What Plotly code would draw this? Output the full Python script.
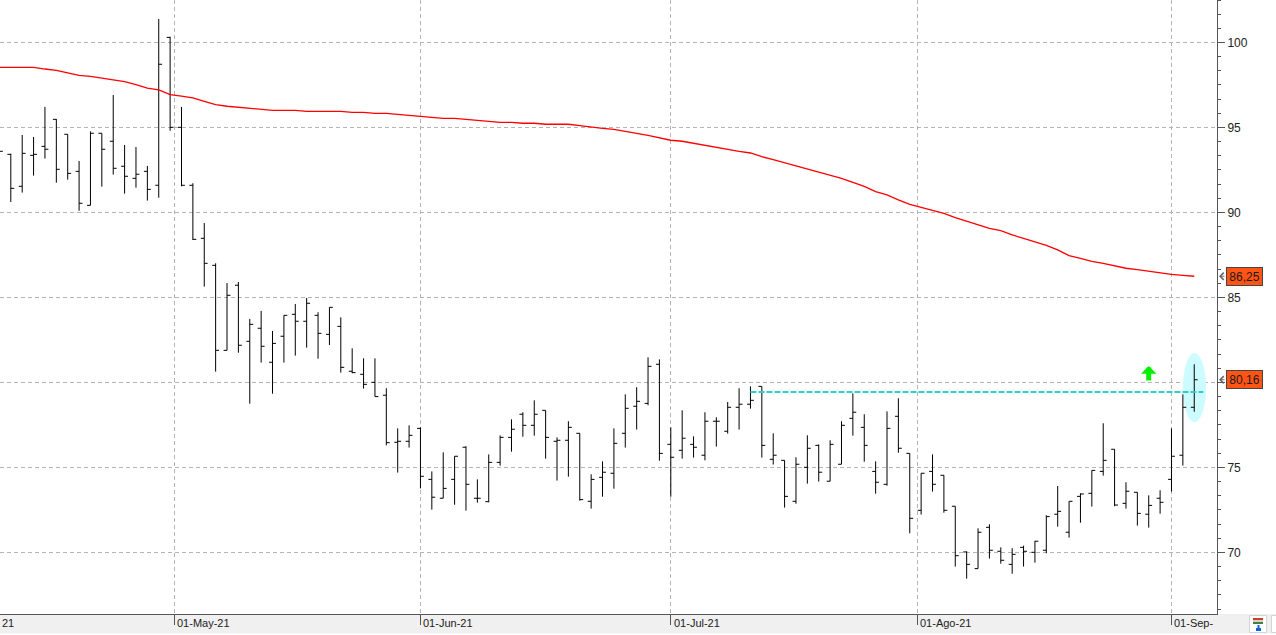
import plotly.graph_objects as go

# Daily bars, one entry per trading session; session -1 sits just off the left edge.
SESSIONS = list(range(-1, 105))

OPEN = [93.8, 93.42, 91.54, 93.36, 93.89, 95.48, 94.6, 92.42, 90.42, 94.66, 94.19, 92.72, 92.01, 92.42, 91.6,
        100.3, 95.01, 91.6, 88.48, 86.89, 81.89, 85.72, 82.42, 83.19, 81.19, 82.72, 84.01, 83.6, 83.95, 82.83,
        83.3, 80.66, 80.48, 80.01, 79.25, 76.48, 76.54, 77.3, 74.3, 73.19, 74.3, 76.19, 73.19, 72.99, 75.3,
        76.77, 78.13, 77.48, 78.36, 76.54, 76.6, 77.01, 73.01, 74.42, 74.66, 77.01, 78.6, 78.77, 81.07, 76.36,
        76.01, 76.36, 75.72, 77.72, 77.13, 78.54, 78.72, 79.77, 75.48, 75.42, 73.01, 75.01, 76.3, 74.19, 75.19,
        77.89, 77.36, 74.77, 74.01, 78.01, 75.83, 72.48, 74.77, 74.54, 72.72, 70.03, 69.05, 71.48, 70.07, 69.3,
        70.3, 70.01, 70.13, 72.25, 71.19, 73.3, 73.48, 74.77, 76.07, 72.89, 73.54, 72.25, 73.19, 74.3, 75.72,
        78.54]
HIGH = [94.0, 93.46, 94.56, 94.44, 96.21, 95.5, 94.6, 93.03, 94.77, 94.66, 96.91, 93.97, 93.85, 92.74, 101.38,
        100.34, 96.21, 91.72, 89.38, 87.01, 85.85, 85.91, 83.74, 84.21, 83.03, 83.95, 84.62, 84.97, 84.13, 84.42,
        83.83, 82.01, 81.42, 81.42, 79.66, 77.3, 77.48, 77.36, 74.77, 75.89, 75.66, 76.25, 74.3, 75.77, 76.89,
        77.83, 78.25, 78.95, 78.36, 76.77, 77.72, 77.01, 74.6, 75.36, 77.3, 79.3, 79.72, 81.48, 81.36, 77.36,
        78.36, 76.83, 78.25, 77.95, 78.85, 79.66, 79.77, 79.77, 77.01, 75.42, 75.6, 76.89, 76.36, 76.6, 77.72,
        79.36, 78.13, 75.36, 78.3, 79.07, 75.83, 74.66, 75.77, 74.54, 72.72, 70.07, 71.42, 71.66, 70.3, 70.25,
        70.4, 70.68, 72.19, 73.91, 73.01, 73.48, 74.83, 77.6, 76.07, 74.13, 73.54, 73.36, 73.66, 77.3, 79.3,
        81.07]
LOW = [92.5, 90.62, 91.17, 92.17, 93.17, 91.75, 91.93, 90.1, 90.42, 91.52, 92.23, 91.11, 91.46, 90.7, 90.87,
       94.81, 91.54, 88.38, 85.64, 80.64, 81.89, 81.75, 78.75, 81.17, 79.34, 81.17, 81.58, 82.05, 81.4, 82.2,
       80.58, 80.54, 79.64, 79.17, 76.3, 74.7, 76.17, 73.77, 72.52, 73.19, 72.81, 72.46, 72.93, 72.95, 75.11,
       75.93, 76.81, 76.87, 75.52, 74.23, 74.46, 73.05, 72.58, 73.28, 73.75, 76.17, 77.23, 78.66, 75.4, 73.28,
       75.52, 75.58, 75.42, 76.23, 76.99, 77.23, 78.46, 75.58, 75.17, 72.64, 72.87, 74.05, 74.17, 74.19, 75.19,
       76.87, 75.34, 73.46, 73.93, 75.87, 71.13, 72.23, 73.58, 72.34, 69.17, 68.46, 69.05, 69.64, 69.34, 68.75,
       69.17, 69.4, 69.95, 71.52, 70.87, 71.75, 72.7, 74.52, 72.72, 72.58, 71.58, 71.46, 72.28, 73.58, 75.11,
       78.28]
CLOSE = [93.6, 91.42, 93.48, 93.42, 93.72, 92.54, 92.3, 90.54, 94.66, 93.72, 92.6, 92.13, 92.25, 91.36, 98.72,
         95.01, 91.6, 88.42, 87.01, 81.89, 85.13, 82.19, 83.42, 82.13, 82.3, 83.95, 83.6, 84.66, 82.89, 84.42,
         80.89, 80.58, 79.89, 79.17, 76.46, 76.54, 76.89, 74.48, 73.25, 73.77, 75.66, 74.01, 73.19, 75.3, 76.77,
         77.25, 77.48, 78.13, 76.77, 76.6, 77.36, 73.11, 74.3, 74.72, 76.42, 78.48, 78.89, 80.95, 75.83, 75.6,
         76.72, 76.19, 77.72, 77.72, 78.54, 78.72, 78.95, 76.3, 75.72, 73.3, 75.19, 76.13, 74.72, 76.36, 77.48,
         78.25, 76.3, 74.13, 77.3, 76.13, 72.01, 74.66, 74.01, 72.48, 69.81, 69.3, 71.19, 70.13, 69.54, 69.89,
         70.07, 70.66, 72.11, 72.42, 73.01, 73.44, 74.83, 75.42, 72.79, 73.6, 72.3, 72.77, 72.95, 75.66, 78.54,
         80.16]

# Long moving average, same sessions as the bars.
AVERAGE = [98.54, 98.54, 98.54, 98.54, 98.44, 98.36, 98.21, 98.07, 98.01, 97.91, 97.77, 97.7, 97.52, 97.32, 97.21,
           96.93, 96.85, 96.74, 96.54, 96.34, 96.25, 96.19, 96.13, 96.07, 96.01, 96.01, 96.01, 95.95, 95.95, 95.95,
           95.95, 95.89, 95.89, 95.83, 95.83, 95.77, 95.72, 95.66, 95.6, 95.54, 95.54, 95.48, 95.42, 95.36, 95.3,
           95.3, 95.25, 95.25, 95.19, 95.19, 95.19, 95.11, 95.01, 94.95, 94.89, 94.79, 94.66, 94.54, 94.4, 94.25,
           94.19, 94.07, 93.93, 93.81, 93.7, 93.6, 93.5, 93.28, 93.11, 92.93, 92.77, 92.58, 92.4, 92.23, 92.01,
           91.77, 91.54, 91.23, 91.03, 90.74, 90.48, 90.3, 90.13, 89.95, 89.7, 89.5, 89.3, 89.07, 88.93, 88.68,
           88.48, 88.29, 88.07, 87.8, 87.46, 87.3, 87.13, 87.01, 86.87, 86.72, 86.64, 86.54, 86.42, 86.36, 86.3,
           86.25]

# Breakout level, drawn from the session that set it to just past the last bar.
LEVEL_SESSIONS = [65, 104.8]
LEVEL_PRICE = [79.44, 79.44]

# The 80 tick carries no number: the last-close flag sits on it.
PRICE_TICKS = [70, 75, 80, 85, 90, 95, 100]
PRICE_LABELS = ["70", "75", "", "85", "90", "95", "100"]
DATE_TICKS = [14.38, 36, 58, 79.67, 102]
DATE_LABELS = ["01-May-21", "01-Jun-21", "01-Jul-21", "01-Ago-21", "01-Sep-"]

LAST_AVERAGE_LABEL = "86,25"
LAST_CLOSE_LABEL = "80,16"

# Session and price of the buy signal arrow, and the highlighted last bar.
SIGNAL_SESSION = 100
SIGNAL_PRICE = 80.97
HIGHLIGHT_SESSIONS = [103.0, 105.04]
HIGHLIGHT_PRICES = [77.66, 81.73]

WIDTH, HEIGHT = 1276, 635
PLOT_W, PLOT_H = 1217, 614
FONT = "Liberation Sans"
AXIS_COLOR = "#555555"
GRID_COLOR = "#b4b4b4"


def px(x):
    return x / PLOT_W


def py(y):
    return (PLOT_H - y) / PLOT_H


def paper_rect(x0, y0, x1, y1, fill, line=None):
    return dict(type="rect", xref="paper", yref="paper", x0=px(x0), x1=px(x1), y0=py(y1), y1=py(y0),
                fillcolor=fill, line=dict(color=line or fill, width=1 if line else 0), layer="below")


fig = go.Figure()
fig.add_trace(go.Scatter(x=SESSIONS, y=AVERAGE, mode="lines", line=dict(color="#ff0000", width=1.3),
                         hoverinfo="skip", showlegend=False))
fig.add_trace(go.Scatter(x=LEVEL_SESSIONS, y=LEVEL_PRICE, mode="lines",
                         line=dict(color="#33cccc", width=2, dash="6px,2px"),
                         hoverinfo="skip", showlegend=False))
fig.add_trace(go.Ohlc(x=SESSIONS, open=OPEN, high=HIGH, low=LOW, close=CLOSE, tickwidth=0.3,
                      increasing=dict(line=dict(color="#000000", width=1)),
                      decreasing=dict(line=dict(color="#000000", width=1)),
                      showlegend=False))

shapes = [
    # highlighted last bar
    dict(type="circle", xref="x", yref="y", x0=HIGHLIGHT_SESSIONS[0], x1=HIGHLIGHT_SESSIONS[1],
         y0=HIGHLIGHT_PRICES[0], y1=HIGHLIGHT_PRICES[1], fillcolor="#ccfcff", line=dict(width=0), layer="between"),
    # date strip and toolbar buttons under the plot
    paper_rect(0, 614, WIDTH, 633.5, "#f0f0f0"),
    paper_rect(1249.5, 615.5, 1266.5, 632.5, "#ffffff", "#d4d4d4"),
    paper_rect(1271.5, 615.5, 1280, 632.5, "#ffffff", "#d4d4d4"),
    paper_rect(1253, 618, 1263, 620, "#c84030"),
    paper_rect(1253, 620, 1263, 622, "#e0d0c0"),
    paper_rect(1253, 622, 1263, 624, "#408040"),
    paper_rect(1256, 628, 1261, 631, "#1060e0"),
    paper_rect(1257.5, 625, 1259.5, 628, "#1060e0"),
]

axis_font = dict(family=FONT, size=12, color="#222222")
date_font = dict(family=FONT, size=11, color="#222222")
annotations = [
    dict(xref="paper", yref="paper", x=0, y=py(623), xanchor="left", yanchor="middle", text="21",
         showarrow=False, font=date_font),
    # buy signal
    dict(xref="x", yref="y", x=SIGNAL_SESSION, y=SIGNAL_PRICE, ax=0, ay=16, axref="pixel", ayref="pixel",
         text="", showarrow=True, arrowhead=1, arrowsize=0.52, arrowwidth=5, arrowcolor="#00f000", standoff=0),
]
# date labels start just right of their ticks
for session, label in zip(DATE_TICKS, DATE_LABELS):
    annotations.append(dict(xref="x", yref="paper", x=session, y=py(623), xanchor="left", yanchor="middle",
                            xshift=1, text=label, showarrow=False, font=date_font))
for price, label in [(AVERAGE[-1], LAST_AVERAGE_LABEL), (CLOSE[-1], LAST_CLOSE_LABEL)]:
    annotations.append(dict(xref="paper", yref="y", x=px(1219), y=price, ax=7, ay=0, text="", showarrow=True,
                            arrowhead=4, arrowsize=1.4, arrowwidth=1, arrowcolor="#666666", standoff=0))
    annotations.append(dict(xref="paper", yref="y", x=px(1226), y=price, xanchor="left", yanchor="middle",
                            text=label, showarrow=False, width=35, height=17, align="center", borderpad=0,
                            bgcolor="#ff5414", bordercolor="#444444", borderwidth=1,
                            font=dict(family=FONT, size=12, color="#1a1a1a")))

fig.update_layout(
    width=WIDTH, height=HEIGHT, autosize=False,
    margin=dict(l=0, r=WIDTH - PLOT_W, t=0, b=HEIGHT - PLOT_H, pad=0),
    paper_bgcolor="#ffffff", plot_bgcolor="#ffffff",
    dragmode=False, showlegend=False,
    shapes=shapes, annotations=annotations,
    xaxis=dict(range=[-0.95, 106.0], rangeslider=dict(visible=False),
               tickmode="array", tickvals=DATE_TICKS, showticklabels=False,
               ticks="outside", ticklen=10, tickwidth=1, tickcolor=AXIS_COLOR,
               showline=True, linecolor=AXIS_COLOR, linewidth=1,
               showgrid=True, gridcolor=GRID_COLOR, griddash="4px,3px", gridwidth=1, zeroline=False),
    yaxis=dict(range=[66.38, 102.5], side="right",
               tickmode="array", tickvals=PRICE_TICKS, ticktext=PRICE_LABELS,
               ticks="outside", ticklen=7, tickwidth=1, tickcolor=AXIS_COLOR, tickfont=axis_font,
               minor=dict(tick0=70, dtick=5 / 6, ticks="outside", ticklen=3, tickwidth=1, tickcolor=AXIS_COLOR,
                          showgrid=False),
               showline=True, linecolor=AXIS_COLOR, linewidth=1,
               showgrid=True, gridcolor=GRID_COLOR, griddash="4px,3px", gridwidth=1, zeroline=False),
)

fig.write_html("out.html", config=dict(displayModeBar=False))
